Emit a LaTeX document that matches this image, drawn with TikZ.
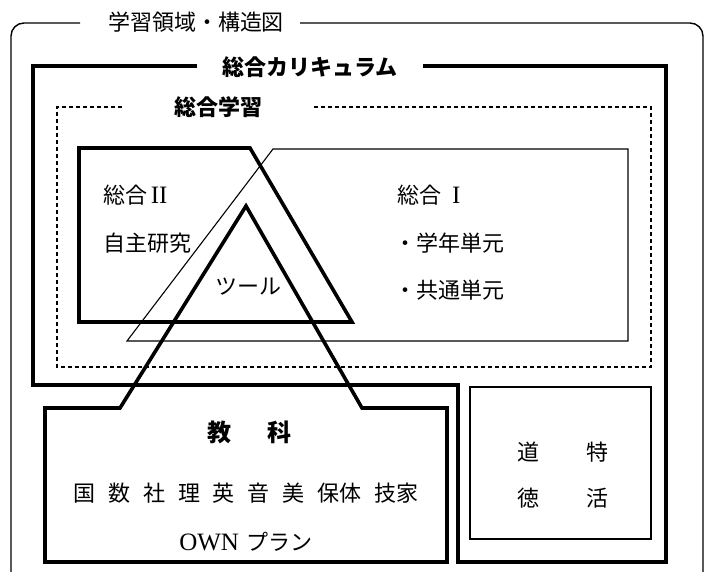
\documentclass[tikz,border=0pt]{standalone}
\usepackage{fontspec}
\newfontfamily\jp{Noto Sans CJK JP}
\newfontfamily\lserif{Liberation Serif}
\newcommand{\gp}{\hspace{0.58em}}
\newcommand{\romtxt}[1]{{\lserif\fontsize{25}{28}\selectfont #1}}
\begin{document}
\begin{tikzpicture}[x=1pt,y=-1pt,
  thickframe/.style={line width=3.6pt, line join=miter},
  thinframe/.style={line width=1.1pt},
  outerframe/.style={line width=1.4pt, rounded corners=13pt},
  dashframe/.style={line width=1.1pt, dash pattern=on 4pt off 3pt},
  jp/.style={inner sep=0pt, font=\jp\fontsize{22}{26}\selectfont},
  jpbold/.style={inner sep=0pt, font=\jp\bfseries\fontsize{22}{26}\selectfont},
  jpbig/.style={inner sep=0pt, font=\jp\bfseries\fontsize{24}{28}\selectfont}]
\useasboundingbox (0,0) rectangle (705,572);

% titles
\node[jp] (title) at (196,22) {学習領域・構造図};
\node[jpbold] (curr) at (310,67) {総合カリキュラム};
\node[jpbold] (gakushu) at (218,107) {総合学習};

% outer rounded frame (open at the bottom)
\draw[outerframe] (80,23) -- (11,23) -- (11,572);
\draw[outerframe] (300,23) -- (703,23) -- (703,572);

% thick L-shaped curriculum frame
\draw[thickframe] (197,66) -- (33,66) -- (33,385) -- (458,385) -- (458,562)
  -- (666,562) -- (666,66) -- (423,66);

% dashed integrated-learning frame
\draw[dashframe] (122,107) -- (57,107) -- (57,367) -- (651,367) -- (651,107) -- (312,107);

% sogo II (thick trapezoid)
\draw[thickframe] (79,148) -- (250,148) -- (352,322) -- (79,322) -- cycle;

% sogo I (thin parallelogram)
\draw[thinframe] (273,149) -- (628,149) -- (628,341) -- (127,341) -- cycle;

% kyoka box with tool triangle
\draw[thickframe] (246,206) -- (362,408) -- (447,408) -- (447,562) -- (45,562)
  -- (45,408) -- (120,408) -- cycle;

% moral / special activities box
\draw[line width=2pt] (470,387) rectangle (651,539);

% texts
\node[jp, anchor=west] (sogo2) at (103,195) {総合\,\romtxt{II}};
\node[jp, anchor=west] (jishu) at (103,243) {自主研究};
\node[jp] (tool) at (248,287) {ツール};
\node[jp, anchor=west] (sogo1) at (397,195) {総合\hspace{0.5em}\romtxt{I}};
\node[jp, anchor=west] (gakunen) at (394,243) {・学年単元};
\node[jp, anchor=west] (kyotsu) at (394,290) {・共通単元};
\node[jpbig] (kyoka) at (249,432) {教\hspace{1.5em}科};
\node[jp] (subjects) at (246,493) {国\gp 数\gp 社\gp 理\gp 英\gp 音\gp 美\gp 保体\gp 技家};
\node[jp] (own) at (246,542) {\romtxt{OWN}\hspace{0.35em}プラン};
\node[jp] (do) at (528,452) {道};
\node[jp] (toku1) at (597,452) {特};
\node[jp] (toku2) at (528,498) {徳};
\node[jp] (katsu) at (597,498) {活};
\end{tikzpicture}
\end{document}
